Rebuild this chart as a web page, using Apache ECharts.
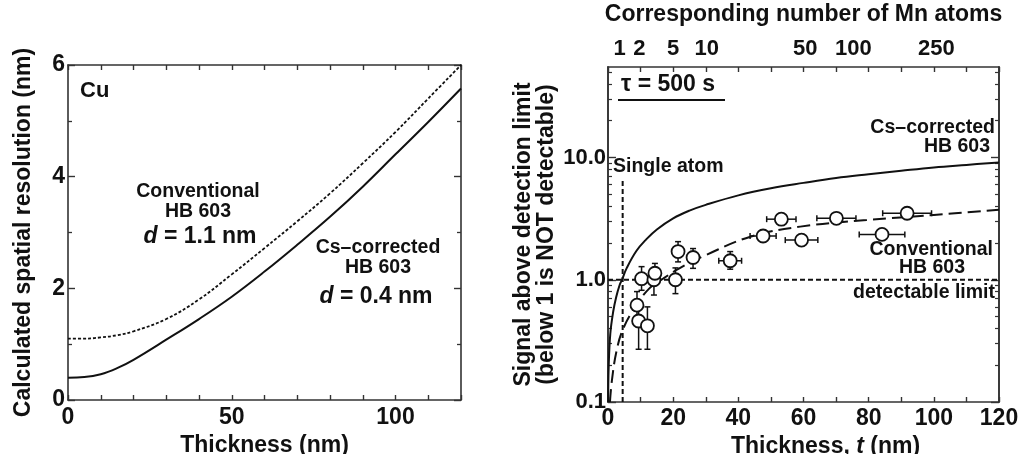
<!DOCTYPE html>
<html>
<head>
<meta charset="utf-8">
<script src="https://cdn.jsdelivr.net/npm/echarts@6/dist/echarts.min.js"></script>
<style>
  html, body { margin: 0; padding: 0; background: #fff; }
  #chart { width: 1020px; height: 454px; }
</style>
</head>
<body>
<div id="chart"></div>
<script>
// ---- Left panel: calculated spatial resolution in Cu vs thickness ----
const leftThickness = [0, 5, 10, 15, 20, 30, 40, 50, 60, 70, 80, 90, 100, 110, 120];
const conventionalRes = [1.10, 1.10, 1.12, 1.16, 1.23, 1.45, 1.80, 2.25, 2.72, 3.20, 3.70, 4.24, 4.80, 5.40, 6.00];
const csCorrectedRes = [0.40, 0.41, 0.46, 0.57, 0.72, 1.08, 1.45, 1.85, 2.30, 2.78, 3.28, 3.82, 4.40, 4.98, 5.58];

// ---- Right panel: signal above detection limit vs thickness ----
const csSignalT = [0.05, 0.2, 0.7, 1.6, 2.5, 3.6, 4.3, 5.7, 8.7, 11.8, 15, 20, 25, 30, 40, 50, 60, 70, 80, 90, 100, 110, 120];
const csSignalV = [0.10, 0.19, 0.36, 0.55, 0.72, 0.91, 1.00, 1.24, 1.72, 2.15, 2.58, 3.18, 3.68, 4.10, 4.90, 5.60, 6.20, 6.80, 7.30, 7.80, 8.30, 8.70, 9.10];
const convSignalT = [0.6, 1.2, 2.6, 4.7, 8.7, 12.7, 16.9, 21.9, 30.2, 43.7, 59, 79.4, 100, 120];
const convSignalV = [0.10, 0.15, 0.26, 0.40, 0.62, 0.85, 1.02, 1.24, 1.60, 2.25, 2.72, 3.08, 3.39, 3.74];

// measured points: thickness, signal, lower / upper error, thickness error
const measT    = [8.9, 9.4, 10.3, 12.1, 14.1, 14.4, 20.7, 21.5, 26.1, 37.5, 47.6, 53.2, 59.4, 70.1, 84.1, 91.8];
const measV    = [0.62, 0.46, 1.02, 0.42, 1.00, 1.13, 1.00, 1.70, 1.52, 1.43, 2.28, 3.13, 2.11, 3.18, 2.35, 3.50];
const measLo   = [0.50, 0.27, 0.82, 0.27, 0.75, 0.95, 0.77, 1.40, 1.24, 1.22, 2.10, 2.90, 1.95, 2.95, 2.18, 3.25];
const measHi   = [0.80, 0.58, 1.28, 0.60, 1.20, 1.36, 1.25, 2.05, 1.80, 1.70, 2.48, 3.38, 2.28, 3.42, 2.52, 3.75];
const measTErr = [0, 0, 0, 0, 0, 0, 0, 0, 1.5, 3.5, 4.0, 4.5, 5.0, 6.0, 7.0, 7.5];

const detectLimit = 1.0;
const singleAtomT = 4.5;
const singleAtomTop = 6.5;

// top axis: corresponding number of Mn atoms at given thickness
const atomLabels = ['1', '2', '5', '10', '50', '100', '250'];
const atomLabelT = [3.6, 9.6, 20, 30.3, 60.5, 75.3, 100.8];

const leftYTicks = [0, 2, 4, 6];
const rightXTicks = [0, 20, 40, 60, 80, 100, 120];
const logMajor = [0.1, 1, 10];
const logMajorText = ['0.1', '1.0', '10.0'];
const logMinor = [0.2, 0.3, 0.4, 0.5, 0.6, 0.7, 0.8, 0.9, 2, 3, 4, 5, 6, 7, 8, 9, 20, 30, 40, 50];

const FONT = '"Liberation Sans", Arial, Helvetica, sans-serif';
const INK = '#111';
const AX = '#333';
const TICK_FS = 23;
const TITLE_FS = 23;
const NOTE_FS = 19.5;

const chart = echarts.init(document.getElementById('chart'), null, { renderer: 'canvas' });

function frameAxis(extra) {
  return Object.assign({
    axisLine: { show: true, onZero: false, lineStyle: { color: AX, width: 1.6 } },
    axisTick: { show: true, inside: true, length: 5, lineStyle: { color: AX, width: 1.4 } },
    axisLabel: { show: false },
    splitLine: { show: false },
    nameTextStyle: { fontFamily: FONT, fontWeight: 'bold', color: INK }
  }, extra);
}
const labelStyle = { show: true, fontFamily: FONT, fontWeight: 'bold', fontSize: TICK_FS, color: INK };
const nameStyle = (extra) => Object.assign({ fontFamily: FONT, fontWeight: 'bold', fontSize: TITLE_FS, color: INK }, extra || {});

const pair = (xs, ys) => xs.map((x, i) => [x, ys[i]]);

const option = {
  animation: false,
  backgroundColor: '#fff',
  grid: [
    { left: 68, top: 65, width: 393, height: 335, outerBoundsMode: 'none', containLabel: false },
    { left: 608, top: 67, width: 391, height: 335, outerBoundsMode: 'none', containLabel: false }
  ],
  xAxis: [
    frameAxis({ gridIndex: 0, type: 'value', min: 0, max: 120, interval: 10, position: 'bottom',
      axisLabel: Object.assign({}, labelStyle, { margin: 6,
        formatter: v => (v % 50 === 0 ? String(v) : '') }),
      name: 'Thickness (nm)', nameLocation: 'middle', nameGap: 28,
      nameTextStyle: nameStyle() }),
    frameAxis({ gridIndex: 0, type: 'value', min: 0, max: 120, interval: 10, position: 'top' }),
    frameAxis({ gridIndex: 1, type: 'value', min: 0, max: 120, interval: 10, position: 'bottom',
      axisLabel: Object.assign({}, labelStyle, { margin: 5, customValues: rightXTicks }),
      name: '{n|Thickness, }{i|t}{n| (nm)}', nameLocation: 'middle', nameGap: 27,
      nameTextStyle: nameStyle({ padding: [0, 0, 0, 44],
        rich: { n: nameStyle(), i: nameStyle({ fontStyle: 'italic' }) } }) }),
    frameAxis({ gridIndex: 1, type: 'value', min: 0, max: 120, interval: 10, position: 'top',
      axisLabel: Object.assign({}, labelStyle, { fontSize: 22, margin: 7, customValues: atomLabelT,
        formatter: v => { const i = atomLabelT.indexOf(v); return i >= 0 ? atomLabels[i] : ''; } }),
      name: 'Corresponding number of Mn atoms', nameLocation: 'middle', nameGap: 41,
      nameTextStyle: nameStyle() })
  ],
  yAxis: [
    frameAxis({ gridIndex: 0, type: 'value', min: 0, max: 6, interval: 2, position: 'left',
      minorTick: { show: true, splitNumber: 2, length: 4, lineStyle: { color: AX, width: 1.3 } },
      axisTick: { show: true, inside: true, length: 7, lineStyle: { color: AX, width: 1.4 } },
      axisLabel: Object.assign({}, labelStyle, { margin: 3, customValues: leftYTicks }),
      name: 'Calculated spatial resolution (nm)', nameLocation: 'middle', nameGap: 33, nameRotate: 90,
      nameTextStyle: nameStyle() }),
    frameAxis({ gridIndex: 0, type: 'value', min: 0, max: 6, interval: 2, position: 'right',
      minorTick: { show: true, splitNumber: 2, length: 4, lineStyle: { color: AX, width: 1.3 } },
      axisTick: { show: true, inside: true, length: 7, lineStyle: { color: AX, width: 1.4 } } }),
    // right panel, log scale: major ticks + labels
    frameAxis({ gridIndex: 1, type: 'log', logBase: 10, min: 0.1, max: 55, position: 'left',
      axisTick: { show: true, inside: true, length: 8, customValues: logMajor, lineStyle: { color: AX, width: 1.4 } },
      axisLabel: Object.assign({}, labelStyle, { fontSize: 22, margin: 2, customValues: logMajor,
        formatter: v => { const i = logMajor.findIndex(m => Math.abs(m - v) < 1e-9); return i >= 0 ? logMajorText[i] : ''; } }),
      name: 'Signal above detection limit\n(below 1 is NOT detectable)', nameLocation: 'middle', nameGap: 50, nameRotate: 90,
      nameTextStyle: nameStyle({ lineHeight: 23 }) }),
    // minor ticks
    frameAxis({ gridIndex: 1, type: 'log', logBase: 10, min: 0.1, max: 55, position: 'left',
      axisTick: { show: true, inside: true, length: 4, customValues: logMinor, lineStyle: { color: AX, width: 1.2 } } }),
    frameAxis({ gridIndex: 1, type: 'log', logBase: 10, min: 0.1, max: 55, position: 'right',
      axisTick: { show: true, inside: true, length: 8, customValues: logMajor, lineStyle: { color: AX, width: 1.4 } } }),
    frameAxis({ gridIndex: 1, type: 'log', logBase: 10, min: 0.1, max: 55, position: 'right',
      axisTick: { show: true, inside: true, length: 4, customValues: logMinor, lineStyle: { color: AX, width: 1.2 } } })
  ],
  series: [
    { name: 'Conventional HB 603', type: 'line', xAxisIndex: 0, yAxisIndex: 0, smooth: 0.4, showSymbol: false,
      data: pair(leftThickness, conventionalRes),
      lineStyle: { color: INK, width: 1.8, type: [3, 2] } },
    { name: 'Cs-corrected HB 603', type: 'line', xAxisIndex: 0, yAxisIndex: 0, smooth: 0.4, showSymbol: false,
      data: pair(leftThickness, csCorrectedRes),
      lineStyle: { color: INK, width: 2 } },
    { name: 'Cs-corrected signal', type: 'line', xAxisIndex: 2, yAxisIndex: 2, smooth: 0.4, showSymbol: false, clip: true,
      data: pair(csSignalT, csSignalV),
      lineStyle: { color: INK, width: 2 } },
    { name: 'Conventional signal', type: 'line', xAxisIndex: 2, yAxisIndex: 2, smooth: 0.4, showSymbol: false, clip: true,
      data: pair(convSignalT, convSignalV),
      lineStyle: { color: INK, width: 2, type: [13, 6] } },
    { name: 'detectable limit', type: 'line', xAxisIndex: 2, yAxisIndex: 2, showSymbol: false,
      data: [[0, detectLimit], [120, detectLimit]],
      lineStyle: { color: INK, width: 2, type: [5, 3] } },
    { name: 'single atom', type: 'line', xAxisIndex: 2, yAxisIndex: 2, showSymbol: false,
      data: [[singleAtomT, 0.1], [singleAtomT, singleAtomTop]],
      lineStyle: { color: INK, width: 2, type: [5, 3] } },
    { name: 'error bars', type: 'custom', xAxisIndex: 2, yAxisIndex: 2, z: 3,
      data: measT.map((t, i) => [t, measV[i], measLo[i], measHi[i], measTErr[i]]),
      renderItem: (params, api) => {
        const t = api.value(0), v = api.value(1), lo = api.value(2), hi = api.value(3), te = api.value(4);
        const a = api.coord([t, lo]), b = api.coord([t, hi]);
        const st = { stroke: INK, lineWidth: 1.5 };
        const cap = 3;
        const kids = [
          { type: 'line', shape: { x1: a[0], y1: a[1], x2: b[0], y2: b[1] }, style: st },
          { type: 'line', shape: { x1: a[0] - cap, y1: a[1], x2: a[0] + cap, y2: a[1] }, style: st },
          { type: 'line', shape: { x1: b[0] - cap, y1: b[1], x2: b[0] + cap, y2: b[1] }, style: st }
        ];
        if (te > 0) {
          const l = api.coord([t - te, v]), r = api.coord([t + te, v]);
          kids.push(
            { type: 'line', shape: { x1: l[0], y1: l[1], x2: r[0], y2: r[1] }, style: st },
            { type: 'line', shape: { x1: l[0], y1: l[1] - cap, x2: l[0], y2: l[1] + cap }, style: st },
            { type: 'line', shape: { x1: r[0], y1: r[1] - cap, x2: r[0], y2: r[1] + cap }, style: st }
          );
        }
        return { type: 'group', children: kids };
      } },
    { name: 'measured', type: 'scatter', xAxisIndex: 2, yAxisIndex: 2, z: 4,
      symbol: 'circle', symbolSize: 13,
      data: pair(measT, measV),
      itemStyle: { color: '#ffffff', opacity: 1, borderColor: INK, borderWidth: 1.8 } }
  ],
  graphic: [
    // left panel annotations
    { type: 'text', x: 80, y: 91, style: { text: 'Cu', font: 'bold 22px ' + FONT, fill: INK, verticalAlign: 'middle' } },
    { type: 'text', x: 198, y: 192, style: { text: 'Conventional', font: 'bold ' + NOTE_FS + 'px ' + FONT, fill: INK, align: 'center', verticalAlign: 'middle' } },
    { type: 'text', x: 198, y: 212, style: { text: 'HB 603', font: 'bold ' + NOTE_FS + 'px ' + FONT, fill: INK, align: 'center', verticalAlign: 'middle' } },
    { type: 'text', x: 200, y: 237, style: { text: '{i|d}{n| = 1.1 nm}', align: 'center', verticalAlign: 'middle',
      rich: { i: { font: 'italic bold 23px ' + FONT, fill: INK }, n: { font: 'bold 23px ' + FONT, fill: INK } } } },
    { type: 'text', x: 378, y: 248, style: { text: 'Cs–corrected', font: 'bold ' + NOTE_FS + 'px ' + FONT, fill: INK, align: 'center', verticalAlign: 'middle' } },
    { type: 'text', x: 378, y: 268, style: { text: 'HB 603', font: 'bold ' + NOTE_FS + 'px ' + FONT, fill: INK, align: 'center', verticalAlign: 'middle' } },
    { type: 'text', x: 376, y: 297, style: { text: '{i|d}{n| = 0.4 nm}', align: 'center', verticalAlign: 'middle',
      rich: { i: { font: 'italic bold 23px ' + FONT, fill: INK }, n: { font: 'bold 23px ' + FONT, fill: INK } } } },
    // right panel annotations
    { type: 'text', x: 621, y: 85, style: { text: 'τ = 500 s', font: 'bold 23px ' + FONT, fill: INK, verticalAlign: 'middle' } },
    { type: 'line', shape: { x1: 618, y1: 100, x2: 725, y2: 100 }, style: { stroke: INK, lineWidth: 2 } },
    { type: 'text', x: 613, y: 167, style: { text: 'Single atom', font: 'bold ' + NOTE_FS + 'px ' + FONT, fill: INK, verticalAlign: 'middle' } },
    { type: 'text', x: 995, y: 128, style: { text: 'Cs–corrected', font: 'bold ' + NOTE_FS + 'px ' + FONT, fill: INK, align: 'right', verticalAlign: 'middle' } },
    { type: 'text', x: 957, y: 147, style: { text: 'HB 603', font: 'bold ' + NOTE_FS + 'px ' + FONT, fill: INK, align: 'center', verticalAlign: 'middle' } },
    { type: 'text', x: 993, y: 250, style: { text: 'Conventional', font: 'bold ' + NOTE_FS + 'px ' + FONT, fill: INK, align: 'right', verticalAlign: 'middle' } },
    { type: 'text', x: 932, y: 268, style: { text: 'HB 603', font: 'bold ' + NOTE_FS + 'px ' + FONT, fill: INK, align: 'center', verticalAlign: 'middle' } },
    { type: 'text', x: 995, y: 293, style: { text: 'detectable limit', font: 'bold ' + NOTE_FS + 'px ' + FONT, fill: INK, align: 'right', verticalAlign: 'middle' } }
  ]
};

chart.setOption(option);
</script>
</body>
</html>
